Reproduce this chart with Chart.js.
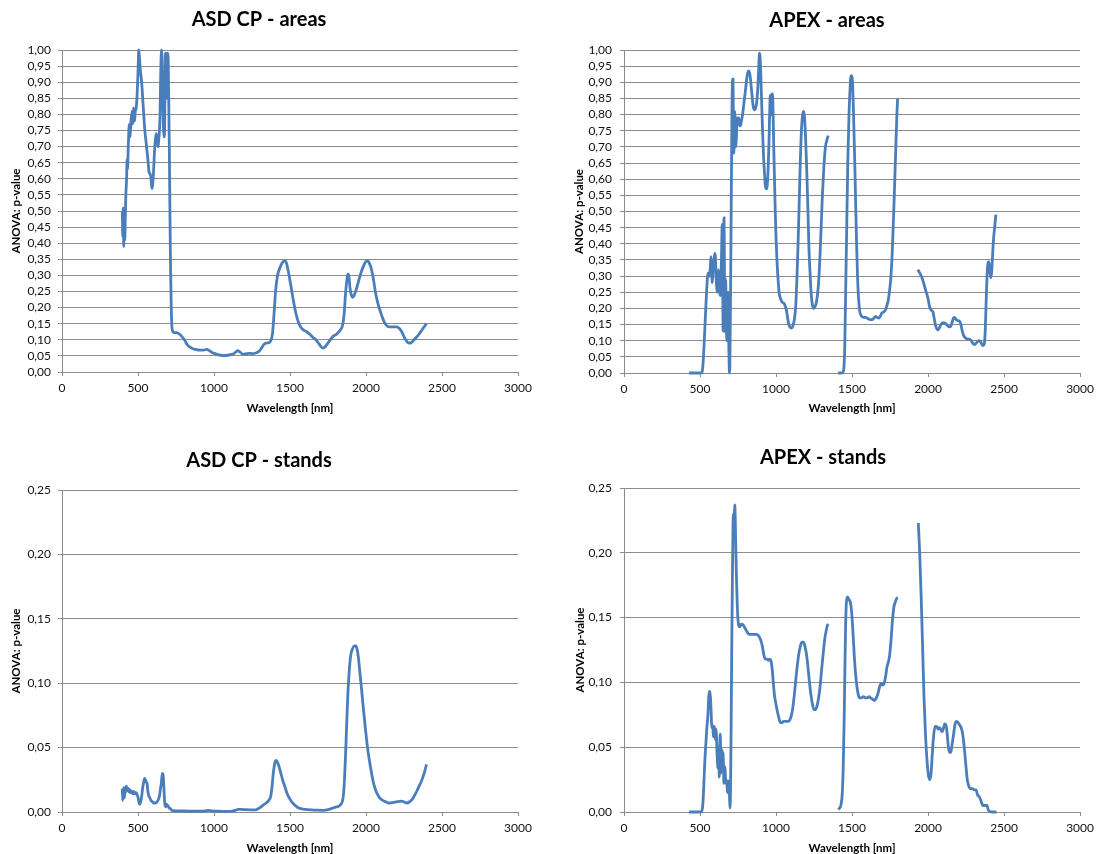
<!DOCTYPE html>
<html>
<head>
<meta charset="utf-8">
<script src="https://cdn.jsdelivr.net/npm/chart.js@4.4.1/dist/chart.umd.min.js"></script>
<style>
  html, body { margin: 0; padding: 0; background: #ffffff; }
  body { width: 1099px; height: 854px; position: relative; overflow: hidden; }
  canvas { position: absolute; }
</style>
</head>
<body>
<canvas id="c1"></canvas>
<canvas id="c2"></canvas>
<canvas id="c3"></canvas>
<canvas id="c4"></canvas>
<script>
// ---------- DATA ----------
const xTicks = [0, 500, 1000, 1500, 2000, 2500, 3000];
const yTicksAreas = [0, 0.05, 0.1, 0.15, 0.2, 0.25, 0.3, 0.35, 0.4, 0.45, 0.5, 0.55, 0.6, 0.65, 0.7, 0.75, 0.8, 0.85, 0.9, 0.95, 1];
const yTicksStands = [0, 0.05, 0.1, 0.15, 0.2, 0.25];

// ASD CP - areas
const asdAreasWl = [397,400,403,406,408,410,413,416,420,425,428,431,436,443,447,450,456,462,466,470,474,478,482,488,494,500,505,509,515,524,535,545,554,565,573,580,586,591,596,602,608,614,620,626,632,636,640,645,650,655,659,663,667,671,675,680,686,690,694,698,702,706,710,714,718,722,727,735,750,766,789,805,824,840,858,880,905,930,951,974,990,1008,1025,1043,1065,1089,1110,1131,1145,1158,1175,1193,1216,1235,1251,1275,1297,1310,1320,1335,1350,1371,1385,1395,1405,1418,1435,1450,1465,1475,1486,1505,1523,1540,1555,1570,1590,1610,1630,1650,1670,1690,1705,1717,1730,1747,1765,1786,1800,1816,1830,1846,1856,1865,1875,1881,1887,1895,1903,1912,1922,1935,1950,1965,1980,1995,2008,2020,2035,2050,2063,2080,2100,2120,2139,2155,2175,2200,2220,2235,2250,2265,2280,2293,2310,2330,2350,2370,2385,2398];
const asdAreasP = [0.50,0.42,0.51,0.39,0.43,0.50,0.41,0.47,0.55,0.60,0.66,0.63,0.70,0.77,0.73,0.75,0.79,0.81,0.77,0.82,0.79,0.78,0.81,0.82,0.86,0.93,1.00,0.98,0.94,0.90,0.82,0.75,0.71,0.66,0.62,0.615,0.60,0.57,0.58,0.62,0.68,0.72,0.74,0.72,0.70,0.72,0.74,0.80,0.94,1.00,0.95,0.84,0.76,0.73,0.75,0.99,0.98,0.85,0.99,0.98,0.85,0.70,0.50,0.33,0.22,0.15,0.128,0.122,0.122,0.12,0.11,0.10,0.085,0.078,0.073,0.07,0.068,0.068,0.07,0.065,0.06,0.057,0.054,0.052,0.051,0.052,0.054,0.057,0.063,0.066,0.06,0.055,0.057,0.058,0.057,0.059,0.065,0.072,0.08,0.088,0.09,0.095,0.12,0.18,0.25,0.30,0.325,0.34,0.345,0.34,0.32,0.27,0.22,0.18,0.155,0.14,0.13,0.125,0.117,0.108,0.10,0.088,0.078,0.074,0.078,0.088,0.10,0.112,0.115,0.122,0.13,0.145,0.18,0.24,0.29,0.305,0.30,0.26,0.24,0.232,0.238,0.255,0.28,0.305,0.325,0.34,0.345,0.34,0.32,0.285,0.245,0.21,0.18,0.155,0.143,0.14,0.14,0.14,0.135,0.125,0.11,0.097,0.09,0.09,0.097,0.107,0.118,0.132,0.142,0.15];

// APEX - areas (null = gap in the spectrum)
const apexAreasWl = [428,450,480,505,513,520,528,535,542,550,556,560,564,568,572,576,580,584,588,593,597,601,605,609,613,617,621,625,629,633,637,640,643,646,649,652,655,658,661,664,667,669,672,676,680,684,688,692,695,698,701,705,710,714,717,720,723,726,729,732,736,740,745,750,755,760,766,772,780,790,800,810,818,826,834,842,850,858,866,873,880,886,891,895,900,906,912,918,924,930,936,942,948,954,960,965,969,973,977,981,985,990,995,1000,1006,1012,1020,1030,1040,1053,1062,1070,1078,1086,1095,1105,1113,1122,1130,1138,1145,1152,1160,1168,1175,1182,1188,1195,1202,1210,1217,1225,1232,1240,1248,1256,1264,1272,1280,1288,1296,1305,1315,1325,1334,1343,1380,1409,1425,1440,1447,1452,1458,1465,1472,1480,1487,1493,1499,1505,1511,1518,1524,1530,1536,1543,1551,1560,1575,1590,1605,1620,1632,1645,1655,1665,1675,1685,1695,1710,1720,1730,1740,1748,1756,1765,1772,1780,1788,1795,1800,1860,1933,1945,1956,1970,1985,2000,2010,2020,2033,2040,2048,2057,2065,2075,2085,2095,2106,2118,2128,2140,2150,2160,2170,2178,2188,2198,2208,2216,2225,2235,2248,2260,2275,2285,2295,2305,2315,2325,2335,2345,2355,2363,2370,2376,2382,2388,2394,2400,2406,2412,2418,2424,2430,2438,2446];
const apexAreasP = [0,0,0,0,0.002,0.03,0.10,0.17,0.24,0.30,0.31,0.30,0.30,0.33,0.36,0.34,0.28,0.30,0.33,0.35,0.37,0.36,0.31,0.27,0.25,0.27,0.32,0.29,0.25,0.24,0.30,0.33,0.40,0.46,0.30,0.13,0.35,0.48,0.30,0.13,0.18,0.29,0.18,0.10,0.20,0.25,0.12,0.02,0.0,0.10,0.25,0.50,0.80,0.91,0.91,0.75,0.68,0.78,0.81,0.72,0.70,0.74,0.79,0.77,0.79,0.77,0.765,0.78,0.80,0.84,0.88,0.92,0.935,0.93,0.90,0.86,0.825,0.815,0.82,0.84,0.88,0.94,0.99,0.98,0.92,0.83,0.74,0.67,0.62,0.58,0.57,0.58,0.63,0.72,0.84,0.86,0.80,0.86,0.865,0.80,0.70,0.60,0.50,0.42,0.35,0.30,0.25,0.23,0.22,0.215,0.205,0.19,0.165,0.148,0.14,0.14,0.15,0.17,0.21,0.30,0.40,0.52,0.66,0.76,0.80,0.81,0.79,0.72,0.63,0.50,0.38,0.30,0.24,0.21,0.20,0.205,0.215,0.24,0.28,0.35,0.44,0.55,0.64,0.70,0.72,0.735,null,0,0,0.003,0.02,0.08,0.25,0.45,0.65,0.80,0.88,0.92,0.92,0.88,0.78,0.65,0.52,0.40,0.30,0.23,0.19,0.178,0.172,0.172,0.168,0.165,0.165,0.17,0.175,0.172,0.17,0.175,0.185,0.19,0.195,0.21,0.23,0.26,0.30,0.38,0.47,0.58,0.70,0.80,0.85,null,0.32,0.31,0.30,0.28,0.255,0.23,0.205,0.195,0.188,0.17,0.15,0.137,0.133,0.14,0.15,0.155,0.155,0.152,0.147,0.143,0.145,0.16,0.172,0.17,0.164,0.162,0.16,0.15,0.13,0.115,0.108,0.105,0.104,0.10,0.092,0.088,0.092,0.097,0.10,0.097,0.088,0.085,0.09,0.13,0.22,0.30,0.34,0.345,0.32,0.295,0.31,0.36,0.41,0.45,0.49];

// ASD CP - stands
const asdStandsWl = [397,399,401,403,405,407,409,411,414,417,420,424,428,432,436,440,445,450,455,460,466,472,478,484,489,495,501,507,512,518,524,530,537,543,549,555,560,565,570,578,586,595,605,616,626,635,642,648,653,658,662,666,670,674,678,683,688,693,698,704,710,720,735,760,800,850,905,940,962,985,1020,1060,1089,1120,1140,1158,1180,1205,1240,1274,1290,1309,1325,1343,1360,1373,1382,1390,1400,1410,1420,1431,1442,1454,1468,1482,1500,1517,1535,1551,1575,1600,1640,1680,1720,1750,1775,1800,1820,1835,1848,1856,1864,1872,1880,1890,1900,1912,1925,1934,1942,1950,1960,1971,1983,1996,2010,2025,2040,2055,2070,2090,2110,2130,2151,2175,2200,2220,2235,2250,2266,2285,2305,2325,2345,2365,2385,2398];
const asdStandsP = [0.018,0.009,0.017,0.010,0.019,0.012,0.018,0.011,0.019,0.015,0.018,0.020,0.017,0.019,0.016,0.018,0.015,0.017,0.015,0.016,0.014,0.016,0.014,0.015,0.015,0.013,0.011,0.007,0.006,0.008,0.012,0.018,0.023,0.026,0.025,0.023,0.022,0.016,0.013,0.011,0.009,0.008,0.007,0.007,0.008,0.010,0.013,0.018,0.022,0.028,0.030,0.028,0.020,0.010,0.005,0.004,0.006,0.005,0.005,0.003,0.003,0.0015,0.001,0.0008,0.0008,0.0007,0.0006,0.0008,0.0012,0.0009,0.0007,0.0005,0.0005,0.0007,0.0012,0.002,0.002,0.0018,0.0017,0.0017,0.0025,0.004,0.0055,0.007,0.009,0.012,0.02,0.03,0.038,0.04,0.038,0.034,0.029,0.024,0.019,0.014,0.010,0.007,0.005,0.0035,0.0025,0.002,0.0016,0.0014,0.0013,0.0018,0.0028,0.0038,0.0045,0.006,0.010,0.02,0.04,0.065,0.09,0.11,0.122,0.127,0.129,0.129,0.126,0.12,0.108,0.095,0.08,0.065,0.05,0.038,0.028,0.02,0.015,0.011,0.009,0.008,0.007,0.0072,0.0078,0.0083,0.0085,0.0078,0.007,0.0078,0.01,0.014,0.019,0.024,0.031,0.037];

// APEX - stands (null = gap in the spectrum)
const apexStandsWl = [428,450,480,506,512,517,523,530,538,545,552,557,561,565,569,573,576,579,583,587,591,594,598,601,605,608,611,614,617,620,624,627,630,633,636,639,642,645,648,651,654,657,661,665,669,673,677,681,685,689,693,697,701,705,709,713,717,720,723,726,729,732,736,740,745,750,756,763,770,778,786,795,805,815,825,840,855,870,885,898,910,920,930,940,950,960,968,975,982,990,1000,1010,1020,1030,1040,1050,1060,1070,1080,1090,1100,1110,1120,1130,1140,1150,1160,1170,1180,1190,1200,1210,1220,1230,1240,1250,1260,1270,1280,1290,1300,1310,1320,1330,1338,1345,1380,1409,1418,1428,1436,1442,1448,1453,1458,1463,1470,1478,1485,1492,1500,1508,1515,1523,1532,1542,1552,1562,1575,1590,1600,1612,1622,1635,1648,1660,1672,1682,1692,1700,1710,1720,1730,1742,1750,1758,1766,1775,1785,1795,1802,1870,1936,1945,1955,1964,1973,1983,1993,2003,2012,2020,2028,2036,2046,2056,2066,2076,2086,2094,2102,2110,2118,2126,2134,2142,2150,2158,2168,2178,2188,2198,2208,2218,2228,2238,2248,2258,2268,2280,2292,2305,2316,2326,2336,2350,2360,2375,2388,2395,2405,2425,2450];
const apexStandsP = [0,0,0,0,0.001,0.004,0.015,0.035,0.052,0.065,0.075,0.088,0.093,0.093,0.088,0.078,0.068,0.065,0.067,0.06,0.058,0.066,0.062,0.056,0.064,0.06,0.048,0.04,0.034,0.05,0.04,0.027,0.05,0.06,0.045,0.03,0.04,0.048,0.038,0.046,0.038,0.022,0.03,0.035,0.022,0.025,0.022,0.015,0.018,0.024,0.015,0.003,0.02,0.07,0.13,0.18,0.22,0.23,0.228,0.23,0.237,0.225,0.2,0.18,0.16,0.148,0.143,0.143,0.145,0.145,0.144,0.142,0.14,0.138,0.137,0.137,0.137,0.137,0.136,0.133,0.128,0.121,0.118,0.118,0.117,0.118,0.116,0.11,0.1,0.09,0.083,0.077,0.072,0.069,0.069,0.07,0.07,0.07,0.07,0.071,0.074,0.08,0.09,0.102,0.113,0.122,0.128,0.131,0.131,0.128,0.122,0.112,0.1,0.09,0.083,0.079,0.079,0.082,0.088,0.097,0.11,0.122,0.133,0.14,0.144,0.145,null,0.002,0.003,0.006,0.015,0.035,0.07,0.11,0.145,0.162,0.166,0.164,0.163,0.16,0.15,0.135,0.12,0.107,0.097,0.09,0.088,0.088,0.089,0.088,0.088,0.089,0.088,0.087,0.086,0.088,0.092,0.097,0.099,0.098,0.099,0.104,0.112,0.117,0.124,0.135,0.148,0.158,0.162,0.165,0.165,null,0.223,0.2,0.165,0.128,0.09,0.06,0.04,0.028,0.025,0.03,0.045,0.058,0.066,0.066,0.064,0.065,0.063,0.062,0.065,0.068,0.067,0.06,0.05,0.046,0.046,0.052,0.06,0.068,0.07,0.069,0.067,0.065,0.06,0.05,0.037,0.025,0.02,0.018,0.018,0.017,0.017,0.013,0.012,0.008,0.005,0.005,0.005,0.002,0.0005,0,0];

// ---------- RENDERING ----------
const FONT = 'Lato, "Open Sans", "DejaVu Sans", sans-serif';
const GRID = '#8c8c8c';
const LINE = '#4a7ebb';
const fmt = v => v.toFixed(2).replace('.', ',');

function pts(wl, p) { return wl.map((x, i) => ({ x: x, y: p[i] })); }

function makeChart(id, cfg) {
  const cv = document.getElementById(id);
  cv.width = cfg.w; cv.height = cfg.h;
  cv.style.left = cfg.left + 'px'; cv.style.top = cfg.top + 'px';
  cv.style.width = cfg.w + 'px'; cv.style.height = cfg.h + 'px';
  return new Chart(cv, {
    type: 'line',
    data: { datasets: [{
      data: pts(cfg.wl, cfg.p),
      borderColor: LINE, borderWidth: 2.8,
      pointRadius: 0, pointHoverRadius: 0,
      cubicInterpolationMode: 'monotone',
      spanGaps: false, fill: false, clip: false
    }] },
    options: {
      responsive: false, animation: false, devicePixelRatio: 1,
      events: [],
      layout: { padding: { left: 0, right: cfg.padRight, top: 0, bottom: 0 } },
      plugins: {
        legend: { display: false },
        tooltip: { enabled: false },
        title: {
          display: true, text: cfg.title, color: '#000',
          font: { family: FONT, size: 20, weight: 'bold', lineHeight: 1.2 },
          padding: { top: cfg.titleTop, bottom: cfg.titleBottom }
        }
      },
      scales: {
        x: {
          type: 'linear', min: 0, max: 3000,
          afterBuildTicks: s => { s.ticks = xTicks.map(v => ({ value: v })); },
          afterFit: s => { s.height = cfg.xH; },
          ticks: { color: '#111', font: { family: FONT, size: 12 }, padding: 5, maxRotation: 0, autoSkip: false, callback: v => String(v) },
          grid: { drawOnChartArea: false, drawTicks: true, tickLength: 4, color: GRID },
          border: { display: true, color: GRID, width: 1 },
          title: { display: true, text: 'Wavelength [nm]', color: '#000',
                   font: { family: FONT, size: 11.5, weight: 'bold', lineHeight: 1 },
                   padding: { top: 0, bottom: cfg.xTitlePad } }
        },
        y: {
          type: 'linear', min: 0, max: cfg.ymax,
          afterBuildTicks: s => { s.ticks = cfg.yTicks.map(v => ({ value: v })); },
          afterFit: s => { s.width = cfg.yW; },
          ticks: { color: '#111', font: { family: FONT, size: 12 }, padding: cfg.yTickPad, autoSkip: false, callback: v => fmt(v) },
          grid: { drawOnChartArea: true, drawTicks: true, tickLength: 4, color: GRID, lineWidth: 1 },
          border: { display: true, color: GRID, width: 1 },
          title: { display: true, text: 'ANOVA: p-value', color: '#000',
                   font: { family: FONT, size: 11.5, weight: 'bold', lineHeight: 1 },
                   padding: { top: cfg.yTitlePad, bottom: 0 } }
        }
      }
    }
  });
}

makeChart('c1', { left: 0, top: 0, w: 546, h: 427, padRight: 28, yW: 62, xH: 55,
  titleTop: 8, titleBottom: 18, xTitlePad: 13, yTitlePad: 11, yTickPad: 7,
  title: 'ASD CP - areas', wl: asdAreasWl, p: asdAreasP, ymax: 1, yTicks: yTicksAreas });

makeChart('c2', { left: 573, top: 0, w: 526, h: 427, padRight: 18, yW: 51, xH: 54,
  titleTop: 9, titleBottom: 17, xTitlePad: 13, yTitlePad: 1, yTickPad: 8,
  title: 'APEX - areas', wl: apexAreasWl, p: apexAreasP, ymax: 1, yTicks: yTicksAreas });

makeChart('c3', { left: 0, top: 430, w: 537, h: 424, padRight: 19, yW: 62, xH: 42,
  titleTop: 19, titleBottom: 17, xTitlePad: 0, yTitlePad: 11, yTickPad: 7,
  title: 'ASD CP - stands', wl: asdStandsWl, p: asdStandsP, ymax: 0.25, yTicks: yTicksStands });

makeChart('c4', { left: 565, top: 430, w: 534, h: 424, padRight: 18, yW: 59, xH: 42,
  titleTop: 16, titleBottom: 18, xTitlePad: 0, yTitlePad: 10, yTickPad: 8,
  title: 'APEX - stands', wl: apexStandsWl, p: apexStandsP, ymax: 0.25, yTicks: yTicksStands });
</script>
</body>
</html>
